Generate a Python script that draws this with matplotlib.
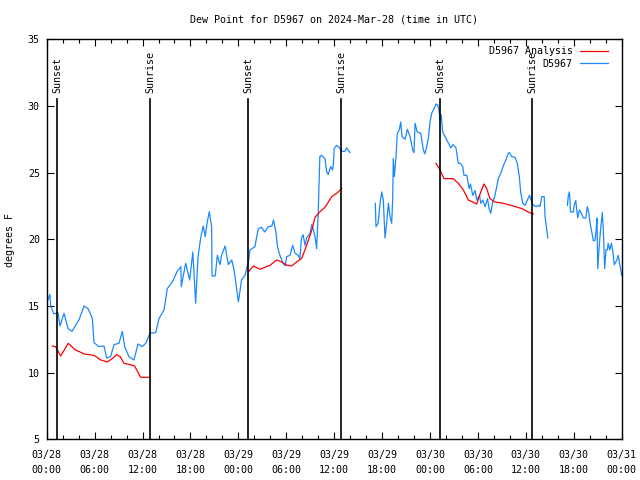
import numpy as np
import matplotlib
matplotlib.use("Agg")
import matplotlib.pyplot as plt

# hours since 2024-03-28 00:00 UTC
OBS_A_T = [0.16, 0.41, 0.5, 0.9, 1.41, 1.67, 2.17, 2.67, 3.17, 3.67, 4.04, 4.67, 5.17, 5.71, 5.92,
           6.55, 7.17, 7.51, 8.0, 8.43, 9.05, 9.47, 9.77, 10.3, 10.93, 11.43, 11.97, 12.4, 12.93,
           13.65, 14.06, 14.69, 15.1, 15.73, 16.35, 16.8, 16.85, 17.4, 17.9, 18.3, 18.65, 18.95,
           19.28, 19.6, 19.85, 20.1, 20.36, 20.5, 20.65, 20.7, 21.1, 21.37, 21.7, 21.9, 22.33,
           22.75, 23.17, 23.37, 23.58, 23.79, 24.0, 24.4, 24.83, 25.25, 25.46, 26.08, 26.3, 26.5,
           26.9, 27.3, 27.75, 28.2, 28.4, 28.7, 28.9, 29.2, 29.6, 29.85, 30.05, 30.47, 30.8, 31.1,
           31.5, 31.7, 31.9, 32.1, 32.35, 32.55, 32.97, 33.2, 33.4, 33.6, 33.8, 34.0, 34.2, 34.4,
           34.85, 35.06, 35.25, 35.56, 35.8, 35.9, 36.0, 36.3, 36.6, 36.95, 37.35, 37.55, 37.98]
OBS_A_V = [15.45, 15.87, 15.0, 14.4, 14.5, 13.5, 14.45, 13.3, 13.1, 13.6, 13.95, 15.0, 14.8, 14.1, 12.25,
           11.95, 12.0, 11.1, 11.2, 12.1, 12.2, 13.1, 11.95, 11.2, 10.95, 12.15, 11.95, 12.2, 12.95,
           13.0, 14.05, 14.7, 16.3, 16.8, 17.6, 17.95, 16.45, 18.2, 16.95, 19.05, 15.2, 18.7,
           20.1, 21.0, 20.2, 21.3, 22.07, 21.5, 20.95, 17.25, 17.25, 18.8, 18.1, 18.8, 19.5,
           18.1, 18.45, 17.95, 17.2, 16.25, 15.3, 16.95, 17.3, 18.3, 19.2, 19.45, 20.2, 20.8,
           20.9, 20.55, 20.95, 21.0, 21.45, 20.55, 19.45, 18.8, 18.2, 18.0, 18.7, 18.8, 19.55, 18.95,
           18.8, 18.55, 20.1, 20.35, 19.55, 20.1, 20.45, 21.1, 20.7, 20.2, 19.3, 21.95, 26.2, 26.3,
           26.05, 25.05, 24.85, 25.45, 25.2, 25.7, 26.8, 27.05, 26.9, 26.6, 26.6, 26.85, 26.5]

OBS_B_T = [41.15, 41.23, 41.5, 41.74, 41.95, 42.15, 42.36, 42.57, 42.78, 42.99, 43.2, 43.32, 43.4,
           43.53, 43.74, 43.9, 44.15, 44.33, 44.5, 44.87, 45.16, 45.5, 45.83, 46.0, 46.12, 46.4,
           46.83, 47.16, 47.35, 47.58, 47.78, 48.0, 48.2, 48.5, 48.75, 48.95, 49.12, 49.25, 49.4,
           49.58, 50.1, 50.4, 50.6, 50.9, 51.25, 51.54, 51.8, 52.1, 52.25, 52.6, 52.9, 53.06, 53.35,
           53.65, 53.85, 54.2, 54.35, 54.6, 54.9, 55.2, 55.4, 55.6, 55.85, 56.1, 56.35, 56.55, 56.85,
           57.2, 57.5, 57.8, 57.95, 58.22, 58.65, 58.93, 59.18, 59.35, 59.6, 59.9, 60.2, 60.45,
           60.66, 60.95, 61.3, 61.55, 61.75, 62.0, 62.3, 62.4, 62.6, 62.75]
OBS_B_V = [22.7, 20.95, 21.2, 22.7, 23.55, 22.95, 20.1, 21.2, 22.7, 21.7, 21.2, 22.95, 26.05,
           24.7, 26.2, 27.95, 28.2, 28.8, 27.7, 27.5, 28.25, 27.7, 26.7, 26.5, 28.7, 28.05,
           27.95, 26.7, 26.4, 26.95, 27.55, 28.8, 29.45, 29.8, 30.15, 30.1, 29.7, 28.95, 29.35,
           28.05, 27.45, 27.1, 26.85, 27.1, 26.85, 25.7, 25.7, 25.45, 24.8, 24.8, 23.8, 24.15, 23.3,
           23.65, 22.95, 23.3, 22.7, 22.95, 22.45, 23.05, 22.3, 21.95, 22.8, 23.2, 23.95, 24.55, 24.95,
           25.55, 25.95, 26.45, 26.5, 26.2, 26.15, 25.7, 24.7, 23.55, 22.7, 22.55, 22.95, 23.3,
           22.95, 22.55, 22.45, 22.55, 22.45, 23.2, 23.2, 21.7, 20.8, 20.1]

OBS_C_T = [65.2, 65.3, 65.45, 65.6, 65.95, 66.05, 66.25, 66.4, 66.5, 66.7, 66.95, 67.2, 67.5, 67.7,
           67.9, 68.0, 68.25, 68.45, 68.65, 68.8, 68.9, 69.0, 69.15, 69.35, 69.57, 69.7, 69.87,
           70.03, 70.2, 70.3, 70.5, 70.7, 70.9, 71.07, 71.4, 71.56, 71.8, 72.0]
OBS_C_V = [22.55, 23.2, 23.55, 22.05, 22.05, 22.55, 22.9, 22.05, 21.6, 22.2, 21.95, 21.6, 21.6, 22.45,
           21.95, 21.35, 20.55, 19.9, 19.9, 20.7, 21.6, 17.8, 19.2, 20.7, 22.0, 20.7, 17.8,
           19.2, 19.2, 19.7, 19.2, 19.7, 19.05, 18.1, 18.45, 18.8, 18.0, 17.3]

ANA_A_T = [0.7, 1.1, 1.75, 2.7, 3.6, 4.17, 4.67, 5.92, 6.76, 7.6, 8.2, 8.76, 9.2, 9.68, 10.45, 11.0,
           11.77, 12.93]
ANA_A_V = [12.0, 11.95, 11.25, 12.2, 11.7, 11.55, 11.4, 11.3, 10.95, 10.8, 11.05, 11.35, 11.2, 10.7,
           10.6, 10.5, 9.65, 9.65]
ANA_B_T = [25.25, 25.87, 26.7, 27.96, 28.8, 29.4, 30.1, 30.67, 31.3, 31.93, 32.55, 33.2, 33.6, 34.22,
           34.85, 35.7, 36.3, 36.94]
ANA_B_V = [17.55, 18.0, 17.75, 18.05, 18.45, 18.3, 18.05, 18.0, 18.3, 18.57, 19.55, 20.7, 21.65, 22.07,
           22.4, 23.2, 23.45, 23.8]
ANA_C_T = [48.75, 49.25, 49.75, 50.9, 51.54, 52.17, 52.8, 53.85, 54.35, 54.76, 55.1, 55.5, 56.1, 57.2,
           58.4, 59.5, 60.3, 60.93]
ANA_C_V = [25.7, 25.2, 24.55, 24.55, 24.2, 23.7, 22.95, 22.65, 23.55, 24.15, 23.8, 23.05, 22.8, 22.7,
           22.5, 22.3, 22.05, 21.9]

SUN_T = [1.33, 12.97, 25.24, 36.89, 49.29, 60.81]
SUN_LABELS = ["Sunset", "Sunrise", "Sunset", "Sunrise", "Sunset", "Sunrise"]

XTICKS = [0, 6, 12, 18, 24, 30, 36, 42, 48, 54, 60, 66, 72]
XTICK_LABELS = ["03/28\n00:00", "03/28\n06:00", "03/28\n12:00", "03/28\n18:00",
                "03/29\n00:00", "03/29\n06:00", "03/29\n12:00", "03/29\n18:00",
                "03/30\n00:00", "03/30\n06:00", "03/30\n12:00", "03/30\n18:00",
                "03/31\n00:00"]

plt.rcParams["font.family"] = ["DejaVu Sans Mono"]
plt.rcParams["font.size"] = 7.2


def join(*segs):
    # gaps in the record -> NaN breaks
    ts, vs = [], []
    for t, v in segs:
        ts += list(t) + [np.nan]
        vs += list(v) + [np.nan]
    return ts, vs


fig = plt.figure(figsize=(6.4, 4.8), dpi=100)
ax = fig.add_axes([46.7 / 640, 1 - 439.3 / 480, 575 / 640, 400 / 480])

ana_t, ana_v = join((ANA_A_T, ANA_A_V), (ANA_B_T, ANA_B_V), (ANA_C_T, ANA_C_V))
obs_t, obs_v = join((OBS_A_T, OBS_A_V), (OBS_B_T, OBS_B_V), (OBS_C_T, OBS_C_V))

ax.plot(ana_t, ana_v, color="#ff0000", lw=0.9, label="D5967 Analysis", zorder=3)
ax.plot(obs_t, obs_v, color="#1a88ff", lw=0.9, label="D5967", zorder=2)

for t, lab in zip(SUN_T, SUN_LABELS):
    ax.plot([t, t], [5, 30.5], color="black", lw=1.2, zorder=4)
    ax.text(t, 30.95, lab, rotation=90, ha="center", va="bottom", zorder=5)

ax.set_xlim(0, 72)
ax.set_ylim(5, 35)
ax.set_xticks(XTICKS)
ax.set_xticklabels(XTICK_LABELS, linespacing=1.6)
ax.set_xticks(np.arange(0, 73, 2), minor=True)
ax.set_yticks([5, 10, 15, 20, 25, 30, 35])
ax.tick_params(which="both", direction="in", top=True, right=True, width=0.8)
ax.tick_params(which="major", length=5)
ax.tick_params(which="minor", length=3)
ax.tick_params(axis="x", pad=8)
ax.tick_params(axis="y", pad=5)
for s in ax.spines.values():
    s.set_linewidth(1.0)

ax.legend(loc="upper right", bbox_to_anchor=(0.988, 1.0), frameon=False, markerfirst=False,
          handlelength=2.8, handletextpad=0.7, labelspacing=0.25, borderaxespad=0.3)

fig.text(334 / 640, 1 - 20 / 480, "Dew Point for D5967 on 2024-Mar-28 (time in UTC)",
         ha="center", va="center")
fig.text(10 / 640, 0.5, "degrees F", rotation=90, ha="center", va="center")

plt.savefig("out.png", dpi=100)
plt.close()
